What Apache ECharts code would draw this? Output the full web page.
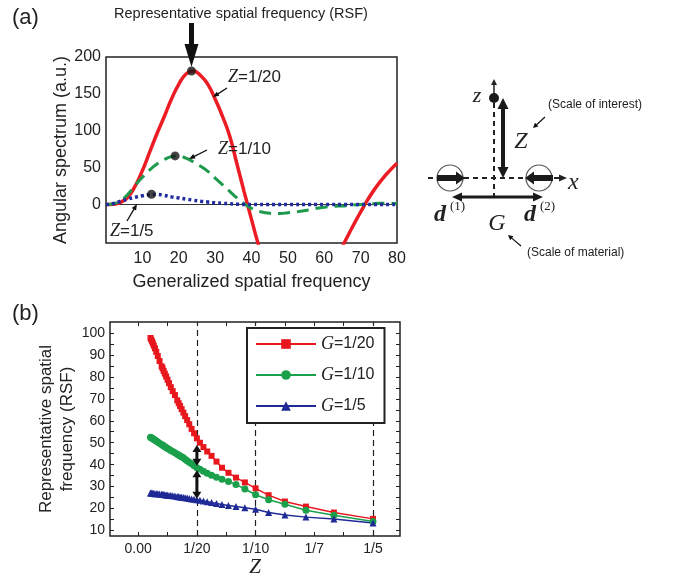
<!DOCTYPE html>
<html><head><meta charset="utf-8">
<script src="https://cdn.jsdelivr.net/npm/echarts@6/dist/echarts.min.js"></script>
<style>html,body{margin:0;padding:0;background:#fff}#c{width:690px;height:585px}</style>
</head><body><div id="c"></div>
<script>
// ---------- Panel (a) data ----------
const freqX = [0,2,4,6,8,10,12,14,16,18,20,22,24,26,28,30,32,34,36,38,40,42,44,46,48,50,52,54,56,58,60,62,64,66,68,70,72,74,76,78,80];
const spectrumZ20 = [0,0.5,3,10,25,46,71,96,119,143,163,177,181,175,163,143,120,93,55,17,-20,-56,-87,-107,-122,-131,-134,-131,-124,-113,-99,-83,-66,-47,-28,-10,7,22,35,46,56];
const spectrumZ10 = [0,1,5,14,26,37,47,55,61,65,66,63,58,52,45,36,27,18,9,1,-5,-9,-11,-12,-12,-11,-10,-8.5,-7,-5,-3.5,-2.5,-2,-1.5,-0.5,0,1,1.5,2,2,1.5];
const spectrumZ5  = [0,1.5,4.5,7.5,10,12,13.5,13.8,12.5,10.5,9,7.5,6,4.5,3.5,2.5,1.8,1.2,0.6,0.2,0,0,0,0,0,0,0,0,0,0,0,0,0,0,0,0,0,0,0,0,0];
const peakX = [23.5, 19, 12.5];
const peakY = [181, 66, 14];
const freqTicks = [10,20,30,40,50,60,70,80];
const specTicks = [0,50,100,150,200];

// ---------- Panel (b) data ----------
const zValues = [0.2,0.1667,0.1429,0.125,0.1111,0.1,0.0909,0.0833,0.0769,0.0714,0.0667,0.0625,0.0588,0.0556,0.0526,0.05,0.0476,0.0455,0.0435,0.0417,0.04,0.0385,0.037,0.0357,0.0345,0.0333,0.0313,0.0294,0.0278,0.0263,0.025,0.0238,0.0227,0.0217,0.0208,0.02,0.0182,0.0167,0.0154,0.0143,0.0133,0.0125,0.0118,0.0111,0.0105];
const rsfG20 = [15.3,18.2,20.9,23.2,26.1,29.2,31.9,34.1,36.3,38.6,41.4,44.0,46.0,48.0,50.0,52.0,54.3,56.3,58.4,60.3,62.1,63.7,65.3,66.7,68.0,69.3,71.7,73.5,75.3,77.1,78.7,80.2,81.5,82.7,83.9,84.8,87.2,89.5,91.4,93.0,94.2,95.3,96.2,97.0,97.7];
const rsfG10 = [14.1,17.0,19.2,22.0,24.0,26.3,28.9,31.0,32.3,33.4,34.3,35.2,36.1,37.0,37.9,38.6,39.5,40.4,41.1,41.8,42.5,43.1,43.6,44.0,44.4,44.7,45.4,46.0,46.5,47.0,47.4,47.8,48.2,48.6,48.9,49.2,49.8,50.3,50.8,51.2,51.5,51.8,52.1,52.3,52.5];
const rsfG5  = [13.4,15.2,16.1,17.1,18.2,19.7,20.4,20.9,21.4,21.9,22.3,22.8,23.1,23.5,23.8,24.0,24.2,24.4,24.6,24.8,24.9,25.0,25.2,25.3,25.4,25.5,25.7,25.8,25.9,26.0,26.1,26.2,26.3,26.4,26.4,26.5,26.6,26.7,26.8,26.8,26.9,27.0,27.0,27.1,27.1];
const zTickVals = [0,0.05,0.1,0.15,0.2];
const zTickLabels = ['0.00','1/20','1/10','1/7','1/5'];
const zMinorTicks = [0,0.025,0.05,0.075,0.1,0.125,0.15,0.175,0.2];
const rsfTicks = [10,20,30,40,50,60,70,80,90,100];
const rsfMinorTicks = [10,15,20,25,30,35,40,45,50,55,60,65,70,75,80,85,90,95,100];
const dashedZ = [0.05,0.1,0.2];
const seriesNames = ['G=1/20','G=1/10','G=1/5'];

const SANS = "'Liberation Sans', Arial, sans-serif";
const SERIF = "'Liberation Serif', 'Times New Roman', serif";
const INK = '#222';

const chart = echarts.init(document.getElementById('c'), null, {renderer:'canvas'});
const pair = (xs, ys) => xs.map((x,i)=>[x, ys[i]]);

const tickStyle = {show:true, inside:true, length:4, lineStyle:{color:INK, width:1}};
const noLine = {show:false, onZero:false};

const option = {
  animation:false,
  backgroundColor:'#fff',
  textStyle:{fontFamily:SANS},
  grid:[
    {left:106, top:57, width:291, height:186, show:true, borderColor:INK, borderWidth:1.5, backgroundColor:'rgba(0,0,0,0)'},
    {left:110, top:322, width:290, height:214, show:true, borderColor:INK, borderWidth:1.5, backgroundColor:'rgba(0,0,0,0)'}
  ],
  xAxis:[
    {gridIndex:0, type:'value', min:0, max:80,
     axisLine:noLine, axisTick:{show:false}, splitLine:{show:false},
     axisLabel:{customValues:freqTicks, fontSize:16, color:INK, margin:8, fontFamily:SANS},
     name:'Generalized spatial frequency', nameLocation:'middle', nameGap:30,
     nameTextStyle:{fontSize:18, fontFamily:SANS, color:INK}},
    {gridIndex:1, type:'value', min:-0.024, max:0.223,
     axisLine:noLine, splitLine:{show:false},
     axisTick:Object.assign({customValues:zMinorTicks}, tickStyle),
     axisLabel:{customValues:zTickVals, fontSize:14, color:INK, margin:6, fontFamily:SANS,
       formatter:(v)=>{const i=zTickVals.findIndex(t=>Math.abs(t-v)<1e-6); return i>=0?zTickLabels[i]:'';}},
     name:'Z', nameLocation:'middle', nameGap:19,
     nameTextStyle:{fontSize:21, fontFamily:SERIF, fontStyle:'italic', color:INK}},
    {gridIndex:1, type:'value', position:'top', min:-0.024, max:0.223,
     axisLine:noLine, splitLine:{show:false}, axisLabel:{show:false},
     axisTick:Object.assign({customValues:zMinorTicks}, tickStyle)}
  ],
  yAxis:[
    {gridIndex:0, type:'value', min:-52, max:200,
     axisLine:noLine, axisTick:{show:false}, splitLine:{show:false},
     axisLabel:{customValues:specTicks, fontSize:16, color:INK, margin:5, fontFamily:SANS},
     name:'Angular spectrum (a.u.)', nameLocation:'middle', nameGap:35,
     nameTextStyle:{fontSize:18, fontFamily:SANS, color:INK}},
    {gridIndex:1, type:'value', min:7.5, max:105,
     axisLine:noLine, splitLine:{show:false},
     axisTick:Object.assign({customValues:rsfMinorTicks}, tickStyle),
     axisLabel:{customValues:rsfTicks, fontSize:14, color:INK, margin:5, fontFamily:SANS},
     name:'Representative spatial\nfrequency (RSF)', nameLocation:'middle', nameGap:32,
     nameTextStyle:{fontSize:17, lineHeight:21, fontFamily:SANS, color:INK, align:'center'}},
    {gridIndex:1, type:'value', position:'right', min:7.5, max:105,
     axisLine:noLine, splitLine:{show:false}, axisLabel:{show:false},
     axisTick:Object.assign({customValues:rsfMinorTicks}, tickStyle)}
  ],
  legend:{
    data:seriesNames, orient:'vertical', left:247, top:328,
    backgroundColor:'#fff', borderColor:INK, borderWidth:2, borderRadius:0,
    padding:[7,10,8,8], itemWidth:60, itemHeight:12, itemGap:13,
    formatter:(n)=>'{g|G}{t|'+n.slice(1)+'}',
    textStyle:{rich:{
      g:{fontFamily:SERIF, fontStyle:'italic', fontSize:18, color:INK},
      t:{fontFamily:SANS, fontSize:16, color:INK}
    }}
  },
  series:[
    {type:'line', name:'Z=1/20', xAxisIndex:0, yAxisIndex:0, data:pair(freqX, spectrumZ20),
     smooth:true, symbol:'none', clip:true, z:3,
     lineStyle:{color:'#ec1c24', width:3.5},
     markLine:{silent:true, symbol:'none', label:{show:false}, z:1,
       lineStyle:{color:'#333', width:1, type:'solid'}, data:[{yAxis:0}]}},
    {type:'line', name:'Z=1/10', xAxisIndex:0, yAxisIndex:0, data:pair(freqX, spectrumZ10),
     smooth:true, symbol:'none', clip:true, z:4,
     lineStyle:{color:'#1d9a4c', width:3, type:[12,7]}},
    {type:'line', name:'Z=1/5', xAxisIndex:0, yAxisIndex:0, data:pair(freqX, spectrumZ5),
     smooth:true, symbol:'none', clip:true, z:5,
     lineStyle:{color:'#1f2b9e', width:3.5, type:[3,3]}},
    {type:'scatter', name:'peaks', xAxisIndex:0, yAxisIndex:0, data:pair(peakX, peakY),
     symbol:'circle', symbolSize:9, itemStyle:{color:'#151515'}, z:6},

    {type:'line', name:seriesNames[0], xAxisIndex:1, yAxisIndex:1, data:pair(zValues, rsfG20),
     symbol:'rect', symbolSize:6, z:3,
     lineStyle:{color:'#e8171e', width:1.5}, itemStyle:{color:'#e8171e'},
     markLine:{silent:true, symbol:'none', label:{show:false}, z:1,
       lineStyle:{color:INK, width:1.2, type:[6,4]}, data:dashedZ.map(v=>({xAxis:v}))}},
    {type:'line', name:seriesNames[1], xAxisIndex:1, yAxisIndex:1, data:pair(zValues, rsfG10),
     symbol:'circle', symbolSize:7, z:3,
     lineStyle:{color:'#1aa04a', width:1.5}, itemStyle:{color:'#1aa04a'}},
    {type:'line', name:seriesNames[2], xAxisIndex:1, yAxisIndex:1, data:pair(zValues, rsfG5),
     symbol:'triangle', symbolSize:7, z:3,
     lineStyle:{color:'#1f2a96', width:1.5}, itemStyle:{color:'#1f2a96'}}
  ]
};
chart.setOption(option);

// ---------- annotations ----------
function arrowEls(x1,y1,x2,y2,o){
  const w=o.w||2, hl=o.hl||8, hw=o.hw||8, color=o.color||'#111', both=!!o.both;
  const dx=x2-x1, dy=y2-y1, L=Math.hypot(dx,dy), ux=dx/L, uy=dy/L, px=-uy, py=ux;
  let sx=x1, sy=y1;
  if(both){ sx=x1+ux*hl*0.9; sy=y1+uy*hl*0.9; }
  const ex=x2-ux*hl*0.9, ey=y2-uy*hl*0.9;
  const els=[{type:'line', z:100, shape:{x1:sx,y1:sy,x2:ex,y2:ey}, style:{stroke:color, lineWidth:w}}];
  const head=(tx,ty,vx,vy)=>({type:'polygon', z:100, shape:{points:[[tx,ty],[tx-vx*hl+px*hw/2, ty-vy*hl+py*hw/2],[tx-vx*hl-px*hw/2, ty-vy*hl-py*hw/2]]}, style:{fill:color}});
  els.push(head(x2,y2,ux,uy));
  if(both) els.push(head(x1,y1,-ux,-uy));
  return els;
}
function txt(x,y,text,o){
  o=o||{};
  return {type:'text', z:100, x:x, y:y, style:Object.assign({text:text, fill:INK, fontFamily:SANS, fontSize:14, align:'left', verticalAlign:'middle'}, o)};
}
const zRich = {z:{fontFamily:SERIF, fontStyle:'italic', fontSize:18, fill:INK}, t:{fontFamily:SANS, fontSize:17, fill:INK}};

const g = [];
g.push(txt(12,18,'(a)',{fontSize:22}));
g.push(txt(12,314,'(b)',{fontSize:22}));
g.push(txt(241,14,'Representative spatial frequency (RSF)',{fontSize:14.5, align:'center'}));
const pk = chart.convertToPixel({gridIndex:0}, [peakX[0], peakY[0]]);
g.push(...arrowEls(pk[0],23,pk[0],pk[1]-4,{w:5,hl:23,hw:14,color:'#111'}));
g.push(txt(228,77,'{z|Z}{t|=1/20}',{rich:zRich}));
g.push(...arrowEls(227,88,213,97,{w:1.3,hl:6,hw:5}));
g.push(txt(218,149,'{z|Z}{t|=1/10}',{rich:zRich}));
g.push(...arrowEls(207,150,189,159,{w:1.3,hl:6,hw:5}));
g.push(txt(110,231,'{z|Z}{t|=1/5}',{rich:zRich}));
g.push(...arrowEls(127,221,137,204,{w:1.3,hl:6,hw:5}));

// schematic diagram
g.push({type:'line', z:90, shape:{x1:494,y1:103,x2:494,y2:197}, style:{stroke:INK, lineWidth:2, lineDash:[5,4]}});
g.push({type:'line', z:90, shape:{x1:428,y1:178,x2:558,y2:178}, style:{stroke:INK, lineWidth:2, lineDash:[5,4]}});
g.push(...arrowEls(556,178,567,178,{w:2,hl:8,hw:7,color:INK}));
g.push(...arrowEls(494,96,494,79,{w:1.5,hl:6,hw:6,color:INK}));
g.push({type:'circle', z:100, shape:{cx:494,cy:98,r:5}, style:{fill:'#1a1a1a'}});
g.push(txt(477,96,'z',{fontFamily:SERIF, fontStyle:'italic', fontSize:22, align:'center'}));
g.push(...arrowEls(503,98,503,178,{w:4,hl:11,hw:11,both:true,color:'#1a1a1a'}));
g.push(txt(521,142,'Z',{fontFamily:SERIF, fontStyle:'italic', fontSize:24, align:'center'}));
g.push(...arrowEls(545,117,533,128,{w:1.2,hl:5,hw:5}));
g.push(txt(548,105,'(Scale of interest)',{fontSize:12}));
g.push(txt(568,183,'x',{fontFamily:SERIF, fontStyle:'italic', fontSize:24}));
g.push({type:'circle', z:95, shape:{cx:450,cy:178,r:13}, style:{fill:'none', stroke:'#555', lineWidth:1.2}});
g.push({type:'circle', z:95, shape:{cx:539,cy:178,r:13}, style:{fill:'none', stroke:'#555', lineWidth:1.2}});
g.push(...arrowEls(437,178,465,178,{w:6,hl:9,hw:13,color:'#1a1a1a'}));
g.push(...arrowEls(553,178,525,178,{w:6,hl:9,hw:13,color:'#1a1a1a'}));
g.push(...arrowEls(452,197,543,197,{w:3,hl:10,hw:9,both:true,color:'#1a1a1a'}));
g.push(txt(434,215,'d',{fontFamily:SERIF, fontStyle:'italic', fontWeight:'bold', fontSize:24}));
g.push(txt(450,207,'(1)',{fontFamily:SERIF, fontSize:13}));
g.push(txt(524,215,'d',{fontFamily:SERIF, fontStyle:'italic', fontWeight:'bold', fontSize:24}));
g.push(txt(540,207,'(2)',{fontFamily:SERIF, fontSize:13}));
g.push(txt(497,224,'G',{fontFamily:SERIF, fontStyle:'italic', fontSize:24, align:'center'}));
g.push(...arrowEls(521,246,508,235,{w:1.2,hl:5,hw:5}));
g.push(txt(527,253,'(Scale of material)',{fontSize:12}));

// double arrows in panel (b) at Z = 1/20
const a1 = chart.convertToPixel({gridIndex:1}, [0.05, 49]);
const a2 = chart.convertToPixel({gridIndex:1}, [0.05, 39.5]);
const a3 = chart.convertToPixel({gridIndex:1}, [0.05, 37.5]);
const a4 = chart.convertToPixel({gridIndex:1}, [0.05, 24.5]);
g.push(...arrowEls(a1[0],a1[1],a2[0],a2[1],{w:3,hl:7,hw:9,both:true,color:'#111'}));
g.push(...arrowEls(a3[0],a3[1],a4[0],a4[1],{w:3,hl:7,hw:9,both:true,color:'#111'}));

chart.setOption({graphic:{elements:g}});
</script>
</body></html>
